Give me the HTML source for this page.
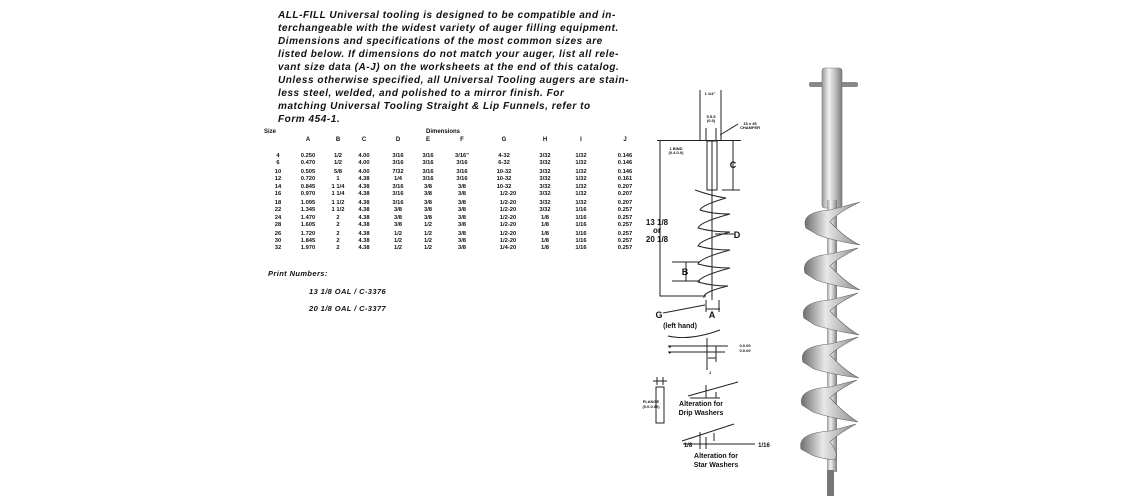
<!DOCTYPE html>
<html><head><meta charset="utf-8"><style>
html,body{margin:0;padding:0;background:#fff;}
body{width:1136px;height:500px;position:relative;overflow:hidden;font-family:"Liberation Sans",Arial,sans-serif;}
.p{position:absolute;left:278px;top:9px;width:360px;font-size:10px;font-weight:bold;font-style:italic;line-height:13px;color:#111;white-space:nowrap;letter-spacing:0.55px;}
svg{position:absolute;left:0;top:0;}
</style></head><body>
<div class="p">ALL-FILL Universal tooling is designed to be compatible and in-<br>terchangeable with the widest variety of auger filling equipment.<br>Dimensions and specifications of the most common sizes are<br>listed below. If dimensions do not match your auger, list all rele-<br>vant size data (A-J) on the worksheets at the end of this catalog.<br>Unless otherwise specified, all Universal Tooling augers are stain-<br>less steel, welded, and polished to a mirror finish. For<br>matching Universal Tooling Straight &amp; Lip Funnels, refer to<br>Form 454-1.</div>
<svg width="1136" height="500" viewBox="0 0 1136 500" font-family="Liberation Sans, Arial, sans-serif" font-weight="bold" fill="#111">
<g font-size="6" text-anchor="middle">
<text x="270" y="133">Size</text><text x="443" y="133">Dimensions</text>
<text x="308" y="141">A</text><text x="338" y="141">B</text><text x="364" y="141">C</text><text x="398" y="141">D</text><text x="428" y="141">E</text><text x="462" y="141">F</text><text x="504" y="141">G</text><text x="545" y="141">H</text><text x="581" y="141">I</text><text x="625" y="141">J</text>
</g>
<g font-size="5.8" text-anchor="middle">
<text y="157"><tspan x="278">4</tspan><tspan x="308">0.250</tspan><tspan x="338">1/2</tspan><tspan x="364">4.00</tspan><tspan x="398">3/16</tspan><tspan x="428">3/16</tspan><tspan x="462">3/16"</tspan><tspan x="504">4-32</tspan><tspan x="545">3/32</tspan><tspan x="581">1/32</tspan><tspan x="625">0.146</tspan></text>
<text y="164"><tspan x="278">6</tspan><tspan x="308">0.470</tspan><tspan x="338">1/2</tspan><tspan x="364">4.00</tspan><tspan x="398">3/16</tspan><tspan x="428">3/16</tspan><tspan x="462">3/16</tspan><tspan x="504">6-32</tspan><tspan x="545">3/32</tspan><tspan x="581">1/32</tspan><tspan x="625">0.146</tspan></text>
<text y="173"><tspan x="278">10</tspan><tspan x="308">0.505</tspan><tspan x="338">5/8</tspan><tspan x="364">4.00</tspan><tspan x="398">7/32</tspan><tspan x="428">3/16</tspan><tspan x="462">3/16</tspan><tspan x="504">10-32</tspan><tspan x="545">3/32</tspan><tspan x="581">1/32</tspan><tspan x="625">0.146</tspan></text>
<text y="180"><tspan x="278">12</tspan><tspan x="308">0.720</tspan><tspan x="338">1</tspan><tspan x="364">4.38</tspan><tspan x="398">1/4</tspan><tspan x="428">3/16</tspan><tspan x="462">3/16</tspan><tspan x="504">10-32</tspan><tspan x="545">3/32</tspan><tspan x="581">1/32</tspan><tspan x="625">0.161</tspan></text>
<text y="188"><tspan x="278">14</tspan><tspan x="308">0.845</tspan><tspan x="338">1 1/4</tspan><tspan x="364">4.38</tspan><tspan x="398">3/16</tspan><tspan x="428">3/8</tspan><tspan x="462">3/8</tspan><tspan x="504">10-32</tspan><tspan x="545">3/32</tspan><tspan x="581">1/32</tspan><tspan x="625">0.207</tspan></text>
<text y="195"><tspan x="278">16</tspan><tspan x="308">0.970</tspan><tspan x="338">1 1/4</tspan><tspan x="364">4.38</tspan><tspan x="398">3/16</tspan><tspan x="428">3/8</tspan><tspan x="462">3/8</tspan><tspan x="508">1/2-20</tspan><tspan x="545">3/32</tspan><tspan x="581">1/32</tspan><tspan x="625">0.207</tspan></text>
<text y="204"><tspan x="278">18</tspan><tspan x="308">1.095</tspan><tspan x="338">1 1/2</tspan><tspan x="364">4.38</tspan><tspan x="398">3/16</tspan><tspan x="428">3/8</tspan><tspan x="462">3/8</tspan><tspan x="508">1/2-20</tspan><tspan x="545">3/32</tspan><tspan x="581">1/32</tspan><tspan x="625">0.207</tspan></text>
<text y="211"><tspan x="278">22</tspan><tspan x="308">1.345</tspan><tspan x="338">1 1/2</tspan><tspan x="364">4.38</tspan><tspan x="398">3/8</tspan><tspan x="428">3/8</tspan><tspan x="462">3/8</tspan><tspan x="508">1/2-20</tspan><tspan x="545">3/32</tspan><tspan x="581">1/16</tspan><tspan x="625">0.257</tspan></text>
<text y="219"><tspan x="278">24</tspan><tspan x="308">1.470</tspan><tspan x="338">2</tspan><tspan x="364">4.38</tspan><tspan x="398">3/8</tspan><tspan x="428">3/8</tspan><tspan x="462">3/8</tspan><tspan x="508">1/2-20</tspan><tspan x="545">1/8</tspan><tspan x="581">1/16</tspan><tspan x="625">0.257</tspan></text>
<text y="226"><tspan x="278">28</tspan><tspan x="308">1.605</tspan><tspan x="338">2</tspan><tspan x="364">4.38</tspan><tspan x="398">3/8</tspan><tspan x="428">1/2</tspan><tspan x="462">3/8</tspan><tspan x="508">1/2-20</tspan><tspan x="545">1/8</tspan><tspan x="581">1/16</tspan><tspan x="625">0.257</tspan></text>
<text y="235"><tspan x="278">26</tspan><tspan x="308">1.720</tspan><tspan x="338">2</tspan><tspan x="364">4.38</tspan><tspan x="398">1/2</tspan><tspan x="428">1/2</tspan><tspan x="462">3/8</tspan><tspan x="508">1/2-20</tspan><tspan x="545">1/8</tspan><tspan x="581">1/16</tspan><tspan x="625">0.257</tspan></text>
<text y="242"><tspan x="278">30</tspan><tspan x="308">1.845</tspan><tspan x="338">2</tspan><tspan x="364">4.38</tspan><tspan x="398">1/2</tspan><tspan x="428">1/2</tspan><tspan x="462">3/8</tspan><tspan x="508">1/2-20</tspan><tspan x="545">1/8</tspan><tspan x="581">1/16</tspan><tspan x="625">0.257</tspan></text>
<text y="249"><tspan x="278">32</tspan><tspan x="308">1.970</tspan><tspan x="338">2</tspan><tspan x="364">4.38</tspan><tspan x="398">1/2</tspan><tspan x="428">1/2</tspan><tspan x="462">3/8</tspan><tspan x="508">1/4-20</tspan><tspan x="545">1/8</tspan><tspan x="581">1/16</tspan><tspan x="625">0.257</tspan></text>
</g>
<g font-size="7.5" font-style="italic" letter-spacing="0.4">
<text x="268" y="276">Print Numbers:</text>
<text x="309" y="294">13 1/8 OAL / C-3376</text>
<text x="309" y="311">20 1/8 OAL / C-3377</text>
</g>
<g stroke="#222" stroke-width="1" fill="none">
<path d="M700 90V141M721 90V141M706 128V141M716 128V141"/>
<path d="M657 140.5H741"/>
<rect x="707" y="141" width="10" height="49" fill="#fff"/>
<path d="M712 141V300"/>
<path d="M722 190H740M733 141V190"/>
<path d="M660 141V296H706"/>
<path d="M695 190 Q712 196 726 198 Q702 205 700 210 Q712 214 730 214 Q700 222 698 228 Q712 232 730 232 Q700 240 698 246 Q712 250 730 250 Q700 258 698 264 Q712 268 730 268 Q700 276 698 282 Q712 286 728 286 Q702 292 704 298"/>
<path d="M706 300V312M719 300V312M706 309H720"/>
<path d="M715 234H734"/>
<path d="M672 262H700M672 281H700M686 262V281"/>
<path d="M663 313L705 305"/>
<path d="M720 135L738 124"/>
<path d="M668 336Q690 341 720 330M668 346H728M668 352H725M707 338V370M716 346V362M708 346H716V358H708"/>
<path d="M657 377V385M663 377V385M653 381H667M656 387H664V423H656Z"/>
<path d="M688 396L738 382M690 398H720M706 385V398M716 392V398"/>
<path d="M682 441L734 424M683 444H755M700 432V449M706 437V449M714 433V441"/>
</g>
<g font-size="4" text-anchor="middle">
<text x="710" y="95">1 1/4"</text><text x="711" y="118">5.5.5</text><text x="711" y="122">(0.5)</text>
<text x="750" y="125">15 x 45</text><text x="750" y="129">CHAMFER</text>
<text x="676" y="150">1 BIND</text><text x="676" y="154">(0.4.0.0)</text>
<text x="745" y="347">0.0.00</text><text x="745" y="352">0.0.00</text>
<text x="651" y="403">FLANGE</text><text x="651" y="408">(0.0.0.00)</text>
</g>
<g font-size="9" text-anchor="middle">
<text x="733" y="168">C</text>
<text x="657" y="225" font-size="8">13 1/8</text><text x="657" y="233" font-size="8">or</text><text x="657" y="242" font-size="8">20 1/8</text>
<text x="737" y="238">D</text><text x="685" y="275">B</text><text x="712" y="318">A</text><text x="659" y="318">G</text>
<text x="680" y="328" font-size="7">(left hand)</text>
<text x="701" y="406" font-size="7">Alteration for</text><text x="701" y="415" font-size="7">Drip Washers</text>
<text x="688" y="447" font-size="6">1/8</text><text x="764" y="447" font-size="6">1/16</text>
<text x="716" y="458" font-size="7">Alteration for</text><text x="716" y="467" font-size="7">Star Washers</text>
<text x="670" y="348" font-size="4">E</text><text x="670" y="354" font-size="4">F</text><text x="710" y="374" font-size="4">J</text>
</g>
<defs>
<linearGradient id="sh" x1="0" x2="1"><stop offset="0" stop-color="#9a9a9a"/><stop offset=".35" stop-color="#f2f2f2"/><stop offset=".7" stop-color="#b8b8b8"/><stop offset="1" stop-color="#7a7a7a"/></linearGradient>
<linearGradient id="fl" x1="0" x2="1"><stop offset="0" stop-color="#6f6f6f"/><stop offset=".4" stop-color="#e8e8e8"/><stop offset="1" stop-color="#8a8a8a"/></linearGradient>
</defs>
<rect x="809" y="82" width="49" height="5" rx="2" fill="#888"/>
<rect x="822" y="68" width="20" height="140" rx="3" fill="url(#sh)" stroke="#777" stroke-width=".6"/>
<rect x="827" y="200" width="10" height="272" fill="url(#sh)"/>
<g fill="url(#fl)" stroke="#666" stroke-width=".6">
<path d="M806 228 Q800 212 830 210 L860 202 Q835 214 830 222 Q845 238 860 245 Q830 240 818 235 Z"/>
<path d="M805 273 Q800 257 830 254 L858 248 Q835 260 830 266 Q845 282 860 290 Q830 285 816 280 Z"/>
<path d="M804 318 Q799 302 830 300 L858 293 Q835 305 830 311 Q845 327 859 335 Q830 330 815 325 Z"/>
<path d="M803 362 Q798 346 830 344 L858 337 Q835 349 830 355 Q845 371 859 378 Q830 374 814 369 Z"/>
<path d="M802 405 Q797 389 830 387 L857 380 Q835 392 830 398 Q845 414 858 422 Q830 418 813 412 Z"/>
<path d="M801 449 Q797 433 830 431 L856 424 Q835 436 830 442 Q840 455 834 460 Q818 458 812 455 Z"/>
</g>
<rect x="827" y="470" width="7" height="26" fill="#777"/>
</svg>
</body></html>
